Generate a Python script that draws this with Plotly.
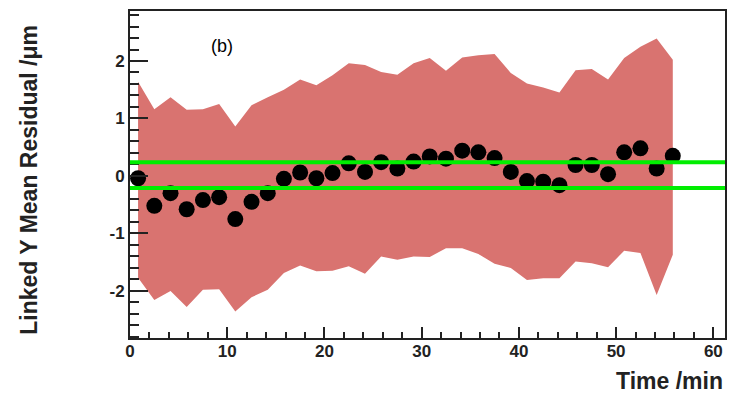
import plotly.graph_objects as go

# time bins (min)
time_min = [0.83, 2.50, 4.17, 5.83, 7.50, 9.17, 10.83, 12.50, 14.17, 15.83,
            17.50, 19.17, 20.83, 22.50, 24.17, 25.83, 27.50, 29.17, 30.83, 32.50,
            34.17, 35.83, 37.50, 39.17, 40.83, 42.50, 44.17, 45.83, 47.50, 49.17,
            50.83, 52.50, 54.17, 55.83]

mean_residual = [-0.04, -0.52, -0.30, -0.58, -0.42, -0.37, -0.75, -0.45, -0.30, -0.05,
                 0.06, -0.04, 0.05, 0.22, 0.07, 0.24, 0.13, 0.25, 0.34, 0.30,
                 0.44, 0.41, 0.31, 0.07, -0.09, -0.10, -0.16, 0.19, 0.19, 0.03,
                 0.41, 0.48, 0.13, 0.35]

band_upper = [1.64, 1.16, 1.37, 1.15, 1.16, 1.25, 0.86, 1.23, 1.37, 1.50,
              1.68, 1.58, 1.75, 1.96, 1.93, 1.81, 1.76, 1.96, 2.05, 1.83,
              2.06, 2.10, 2.12, 1.79, 1.61, 1.54, 1.45, 1.84, 1.86, 1.68,
              2.05, 2.25, 2.39, 2.02]

band_lower = [-1.77, -2.16, -2.00, -2.28, -1.98, -1.97, -2.36, -2.11, -1.98, -1.69,
              -1.56, -1.66, -1.65, -1.57, -1.70, -1.40, -1.46, -1.40, -1.41, -1.26,
              -1.26, -1.36, -1.53, -1.60, -1.81, -1.78, -1.78, -1.49, -1.52, -1.59,
              -1.30, -1.34, -2.07, -1.37]

limit_lines = [0.24, -0.21]

x_tickvals = [0, 10, 20, 30, 40, 50, 60]
x_ticktext = ["0", "10", "20", "30", "40", "50", "60"]
y_tickvals = [-2, -1, 0, 1, 2]
y_ticktext = ["-2", "-1", "0", "1", "2"]

FONT = "Liberation Sans"

fig = go.Figure()

fig.add_trace(go.Scatter(
    x=time_min + time_min[::-1],
    y=band_upper + band_lower[::-1],
    fill="toself",
    fillcolor="rgb(217,115,112)",
    line=dict(width=0),
    mode="lines",
    hoverinfo="skip",
    showlegend=False,
))

fig.add_trace(go.Scatter(
    x=time_min, y=mean_residual,
    mode="markers",
    marker=dict(color="black", size=16),
    showlegend=False,
))

for yv in limit_lines:
    fig.add_shape(type="line", xref="paper", yref="y", x0=0, x1=1, y0=yv, y1=yv,
                  line=dict(color="#00ee00", width=4), layer="above")

fig.add_annotation(text="(b)", xref="x", yref="paper", x=9.5, y=(338 - 46) / 327,
                   xanchor="center", yanchor="middle",
                   showarrow=False, font=dict(family=FONT, size=18, color="black"))

fig.add_annotation(text="Linked Y Mean Residual /μm", xref="paper", yref="paper",
                   x=(29 - 130) / 597, y=0.485, textangle=-90, showarrow=False,
                   xanchor="center", yanchor="middle",
                   font=dict(family=FONT, size=23, color="#222", weight="bold"))

fig.add_annotation(text="Time /min", xref="paper", yref="paper",
                   x=1.0, y=-(381 - 338) / 327, xanchor="right", yanchor="middle",
                   showarrow=False,
                   font=dict(family=FONT, size=23, color="#222", weight="bold"))

fig.update_xaxes(
    range=[0, 61.2], showgrid=False, zeroline=False,
    showline=True, linecolor="#222", linewidth=2, mirror=True,
    ticks="inside", ticklen=11, tickwidth=2, tickcolor="#222",
    tickvals=x_tickvals, ticktext=x_ticktext,
    minor=dict(ticks="inside", ticklen=6, tickwidth=2, tickcolor="#222", dtick=2, tick0=0, showgrid=False),
    tickfont=dict(family=FONT, size=17, color="#222", weight="bold"),
    ticklabelstandoff=-3,
)
fig.update_yaxes(
    range=[-2.82, 2.87], showgrid=False, zeroline=False,
    showline=True, linecolor="#222", linewidth=2, mirror=True,
    ticks="inside", ticklen=18, tickwidth=2, tickcolor="#222",
    tickvals=y_tickvals, ticktext=y_ticktext,
    minor=dict(ticks="inside", ticklen=9, tickwidth=2, tickcolor="#222", dtick=0.2, tick0=0, showgrid=False),
    tickfont=dict(family=FONT, size=17, color="#222", weight="bold"),
    ticklabelstandoff=0,
)

fig.update_layout(
    width=732, height=395,
    margin=dict(l=130, r=5, t=11, b=57),
    paper_bgcolor="white", plot_bgcolor="white",
    showlegend=False,
)

fig.write_html("out.html")
